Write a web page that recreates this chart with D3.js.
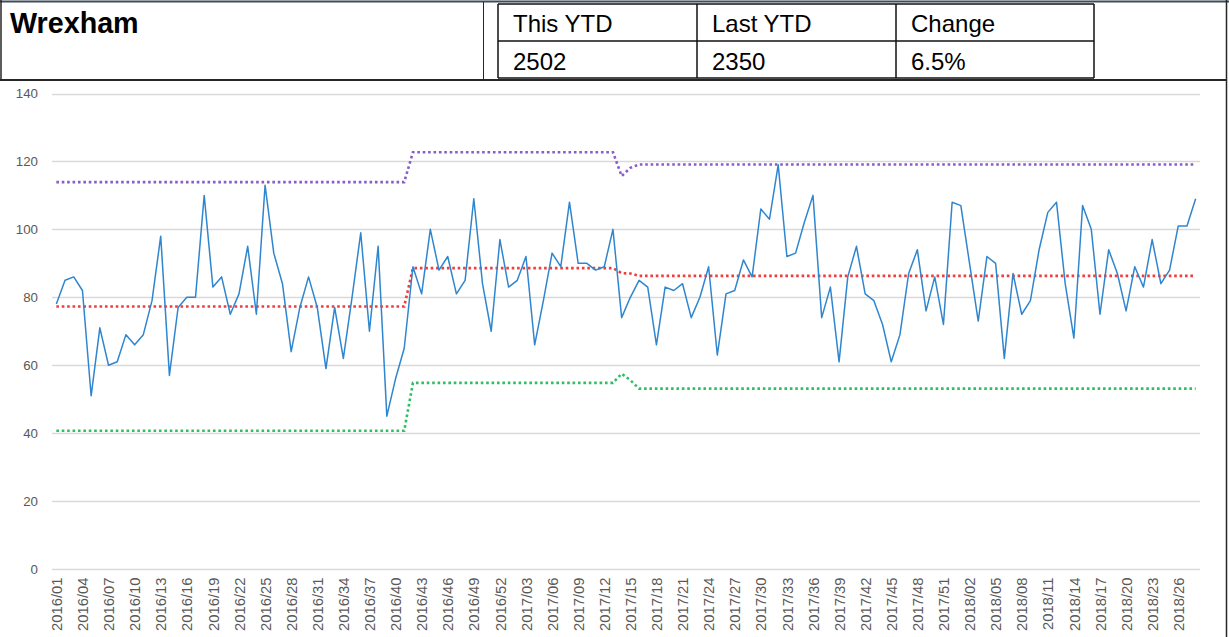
<!DOCTYPE html>
<html>
<head>
<meta charset="utf-8">
<script src="https://cdn.jsdelivr.net/npm/d3@7"></script>
<style>
  html, body { margin: 0; padding: 0; background: #fff; }
  svg { display: block; }
</style>
</head>
<body>
<svg id="chart" width="1229" height="637"></svg>
<script>
// ---------- data ----------
const title = "Wrexham";
const tableHeaders = ["This YTD", "Last YTD", "Change"];
const tableValues = ["2502", "2350", "6.5%"];

// ISO week categories: 2016/01 .. 2018/28
const years = [2016, 2017, 2018];
const weeksInYear = [52, 52, 28];
const categories = [];
years.forEach((y, k) => {
  for (let w = 1; w <= weeksInYear[k]; w++) categories.push(y + "/" + String(w).padStart(2, "0"));
});

const weekly = [
  78, 85, 86, 82, 51, 71, 60, 61, 69, 66,
  69, 79, 98, 57, 77, 80, 80, 110, 83, 86,
  75, 81, 95, 75, 113, 93, 84, 64, 77, 86,
  77, 59, 77, 62, 80, 99, 70, 95, 45, 56,
  65, 89, 81, 100, 88, 92, 81, 85, 109, 84,
  70, 97, 83, 85, 92, 66, 79, 93, 89, 108,
  90, 90, 88, 89, 100, 74, 80, 85, 83, 66,
  83, 82, 84, 74, 80, 89, 63, 81, 82, 91,
  86, 106, 103, 119, 92, 93, 102, 110, 74, 83,
  61, 86, 95, 81, 79, 72, 61, 69, 87, 94,
  76, 86, 72, 108, 107, 90, 73, 92, 90, 62,
  87, 75, 79, 94, 105, 108, 84, 68, 107, 100,
  75, 94, 87, 76, 89, 83, 97, 84, 88, 101,
  101, 109
];

// control limits as runs: [value, count]
const meanRuns = [[77.3, 41], [88.6, 24], [87.1, 1], [87.0, 1], [86.3, 65]];
const uclRuns  = [[113.9, 41], [122.7, 24], [115.7, 1], [118.1, 1], [119.1, 65]];
const lclRuns  = [[40.7, 41], [54.8, 24], [57.5, 1], [55.6, 1], [53.1, 65]];

const yTicks = [0, 20, 40, 60, 80, 100, 120, 140];

function expand(runs) { const out = []; runs.forEach(([v, n]) => { for (let i = 0; i < n; i++) out.push(v); }); return out; }
const meanLine = expand(meanRuns), uclLine = expand(uclRuns), lclLine = expand(lclRuns);

// ---------- drawing ----------
const svg = d3.select("#chart");
const FONT = "'Liberation Sans', Arial, sans-serif";

// header frame
const frame = svg.append("g").attr("stroke", "#262626").attr("fill", "none");
frame.append("line").attr("x1", 0).attr("x2", 1229).attr("y1", 1.5).attr("y2", 1.5).attr("stroke", "#3f4a5a").attr("stroke-width", 2);
frame.append("line").attr("x1", 0).attr("x2", 1227).attr("y1", 80).attr("y2", 80).attr("stroke-width", 2);
frame.append("line").attr("x1", 1).attr("x2", 1).attr("y1", 0).attr("y2", 81).attr("stroke-width", 1.5);
frame.append("line").attr("x1", 1226.5).attr("x2", 1226.5).attr("y1", 0).attr("y2", 637).attr("stroke-width", 1.5);
frame.append("line").attr("x1", 483.5).attr("x2", 483.5).attr("y1", 2).attr("y2", 80).attr("stroke-width", 1);

// table
const colX = [498, 697, 896, 1094];
const rowY = [4, 41, 78];
const tbl = svg.append("g").attr("stroke", "#111").attr("stroke-width", 1.5).attr("fill", "none");
rowY.forEach(y => tbl.append("line").attr("x1", colX[0]).attr("x2", colX[3]).attr("y1", y).attr("y2", y));
colX.forEach(x => tbl.append("line").attr("x1", x).attr("x2", x).attr("y1", rowY[0]).attr("y2", rowY[2]));

svg.append("text").attr("x", 10).attr("y", 33).text(title)
  .attr("font-family", FONT).attr("font-weight", "bold").attr("font-size", 28.7).attr("fill", "#000");

tableHeaders.forEach((t, i) => {
  svg.append("text").attr("x", colX[i] + 15).attr("y", 32).text(t)
    .attr("font-family", FONT).attr("font-size", 24).attr("fill", "#000");
  svg.append("text").attr("x", colX[i] + 15).attr("y", 70).text(tableValues[i])
    .attr("font-family", FONT).attr("font-size", 24).attr("fill", "#000");
});

// chart
const x = d3.scalePoint().domain(categories).range([52, 1200]).padding(0.5);
const y = d3.scaleLinear().domain([0, 140]).range([569, 93.5]);

// gridlines
svg.append("g").selectAll("line").data(yTicks).join("line")
  .attr("x1", 52).attr("x2", 1200)
  .attr("y1", d => Math.round(y(d)) + 0.5).attr("y2", d => Math.round(y(d)) + 0.5)
  .attr("stroke", "#d9d9d9").attr("stroke-width", 1.3);

// y axis
const yAxis = svg.append("g").attr("transform", "translate(38,0)")
  .call(d3.axisLeft(y).tickValues(yTicks).tickSize(0).tickPadding(0));
yAxis.select(".domain").remove();
yAxis.selectAll("text").attr("font-family", FONT).attr("font-size", 13.3).attr("fill", "#595959");

// x axis
const xLabels = categories.filter((d, i) => i % 3 === 0);
const xAxis = svg.append("g").attr("transform", "translate(0,569)")
  .call(d3.axisBottom(x).tickValues(xLabels).tickSize(0).tickPadding(0));
xAxis.select(".domain").remove();
xAxis.selectAll("text")
  .attr("font-family", FONT).attr("font-size", 14.8).attr("fill", "#595959")
  .attr("text-anchor", "end").attr("dy", "0.35em")
  .attr("transform", "translate(0,8.5) rotate(-90)")
  .attr("x", 0).attr("y", 0);

// lines
const line = d3.line().x((d, i) => x(categories[i])).y(d => y(d));

function dotted(data, color) {
  svg.append("path").datum(data).attr("d", line)
    .attr("fill", "none").attr("stroke", color).attr("stroke-width", 2.6)
    .attr("stroke-dasharray", "2.6,2.8");
}
dotted(uclLine, "#8a5cc6");
dotted(meanLine, "#f23b3b");
dotted(lclLine, "#2cc064");

svg.append("path").datum(weekly).attr("d", line)
  .attr("fill", "none").attr("stroke", "#2f86cf").attr("stroke-width", 1.5)
  .attr("stroke-linejoin", "round");
</script>
</body>
</html>
